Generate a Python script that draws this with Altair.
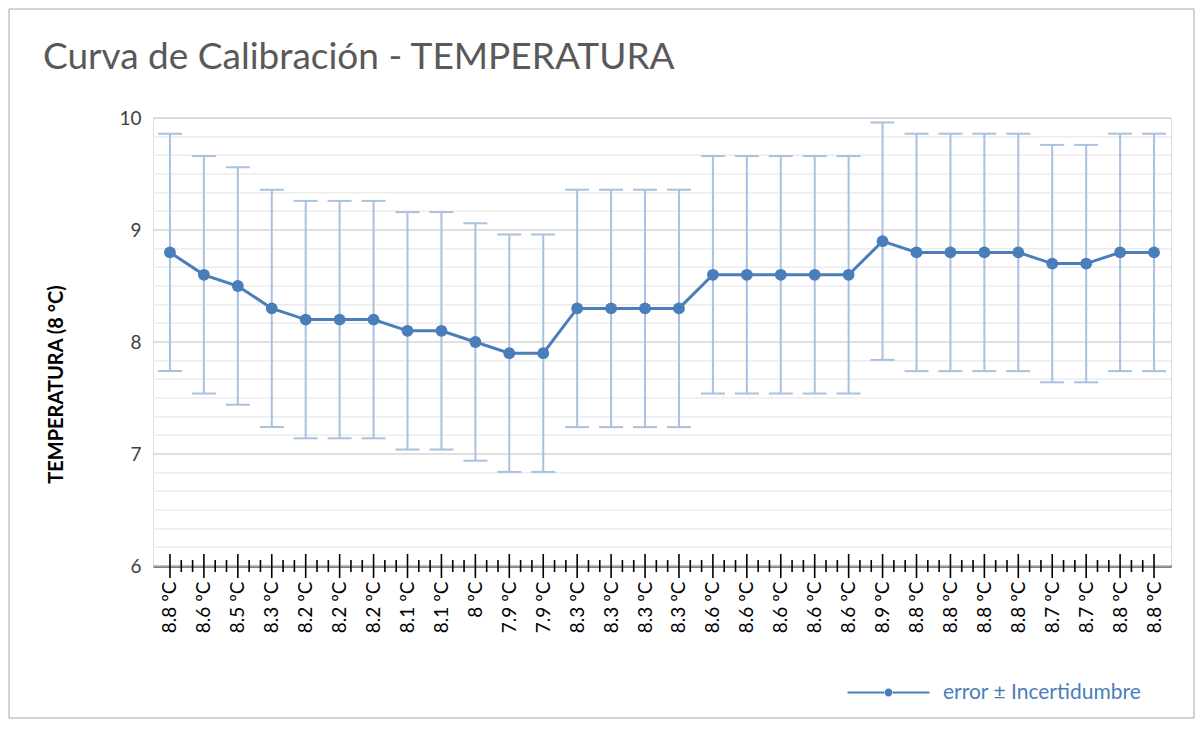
import altair as alt
import pandas as pd

# ---- data ----
labels = ["8.8 ºC", "8.6 ºC", "8.5 ºC", "8.3 ºC", "8.2 ºC", "8.2 ºC", "8.2 ºC", "8.1 ºC",
          "8.1 ºC", "8 ºC", "7.9 ºC", "7.9 ºC", "8.3 ºC", "8.3 ºC", "8.3 ºC", "8.3 ºC",
          "8.6 ºC", "8.6 ºC", "8.6 ºC", "8.6 ºC", "8.6 ºC", "8.9 ºC", "8.8 ºC", "8.8 ºC",
          "8.8 ºC", "8.8 ºC", "8.7 ºC", "8.7 ºC", "8.8 ºC", "8.8 ºC"]
temps = [8.8, 8.6, 8.5, 8.3, 8.2, 8.2, 8.2, 8.1, 8.1, 8.0, 7.9, 7.9, 8.3, 8.3, 8.3, 8.3,
         8.6, 8.6, 8.6, 8.6, 8.6, 8.9, 8.8, 8.8, 8.8, 8.8, 8.7, 8.7, 8.8, 8.8]
uncert = [1.06, 1.06, 1.06, 1.06, 1.06, 1.06, 1.06, 1.06, 1.06, 1.06, 1.06, 1.06, 1.06, 1.06, 1.06,
          1.06, 1.06, 1.06, 1.06, 1.06, 1.06, 1.06, 1.06, 1.06, 1.06, 1.06, 1.06, 1.06, 1.06, 1.06]
series_name = "error ± Incertidumbre"
y_ticks = [6, 7, 8, 9, 10]

# ---- styling ----
W, H = 1018, 448
LINE_C = "#4a7ebb"
ERR_C = "#a8c1e0"
FONT = "Lato"

n = len(temps)
df = pd.DataFrame({
    "idx": list(range(n)),
    "temp": temps,
    "lo": [t - u for t, u in zip(temps, uncert)],
    "hi": [t + u for t, u in zip(temps, uncert)],
    "serie": [series_name] * n,
})

grid_major = pd.DataFrame({"g": y_ticks})
grid_minor = pd.DataFrame({"g": [6 + k / 6 for k in range(25) if k % 6 != 0]})
ticks_major = pd.DataFrame({"idx": list(range(n))})
ticks_minor = pd.DataFrame({"idx": [i + f for i in range(n - 1) for f in (1 / 3, 2 / 3)]})
one = pd.DataFrame({"a": [0]})

label_expr = "[" + ",".join("'" + l + "'" for l in labels) + "][datum.value]"

x_scale = alt.Scale(domain=[-0.5, n - 0.5], nice=False, zero=False)
x_axis = alt.Axis(values=list(range(n)), labelExpr=label_expr, ticks=False, grid=False,
                  domain=True, domainColor="#000000", domainWidth=2,
                  labelAngle=270, labelAlign="right", labelBaseline="middle",
                  labelPadding=15, labelFont=FONT, labelFontSize=19, labelColor="#000000",
                  labelOverlap=False, labelFlush=False, title=None)
X = alt.X("idx:Q", scale=x_scale, axis=x_axis)

y_scale = alt.Scale(domain=[6, 10], nice=False, zero=False)
y_axis = alt.Axis(values=y_ticks, grid=False, domain=False, ticks=False, labelPadding=12,
                  labelFont=FONT, labelFontSize=19, labelColor="#404040",
                  title="TEMPERATURA (8 °C)", titleFont=FONT, titleFontSize=20,
                  titleFontWeight="bold", titleColor="#000000", titleAngle=270,
                  titleX=-97, titleY=266, titleAlign="center", titleBaseline="middle")


def Y(field):
    return alt.Y(field + ":Q", scale=y_scale, axis=y_axis)


g_minor = alt.Chart(grid_minor).mark_rule(color="#ececec", strokeWidth=1.5).encode(y=Y("g"))
g_major = alt.Chart(grid_major).mark_rule(color="#d4d4d4", strokeWidth=1.5).encode(y=Y("g"))

err = alt.Chart(df).mark_rule(color=ERR_C, strokeWidth=2).encode(x=X, y=Y("lo"), y2="hi:Q")
cap_lo = alt.Chart(df).mark_tick(color=ERR_C, orient="horizontal", size=24, thickness=2,
                                 opacity=1).encode(x=X, y=Y("lo"))
cap_hi = alt.Chart(df).mark_tick(color=ERR_C, orient="horizontal", size=24, thickness=2,
                                 opacity=1).encode(x=X, y=Y("hi"))

line = alt.Chart(df).mark_line(color=LINE_C, strokeWidth=3).encode(x=X, y=Y("temp"))

sym_path = ("M-4.1,-0.1H-0.45V0.1H-4.1Z M0.45,-0.1H4.1V0.1H0.45Z "
            "M0.4,0A0.4,0.4,0,1,1,-0.4,0A0.4,0.4,0,1,1,0.4,0Z")
points = alt.Chart(df).mark_circle(size=140, opacity=1).encode(
    x=X, y=Y("temp"),
    color=alt.Color("serie:N", scale=alt.Scale(range=[LINE_C]),
                    legend=alt.Legend(title=None, orient="none", legendX=725, legendY=564,
                                      symbolType=sym_path, symbolSize=400, symbolOpacity=1,
                                      symbolStrokeWidth=0, labelFont=FONT, labelFontSize=21,
                                      labelColor=LINE_C, labelOffset=44, labelLimit=0,
                                      padding=0)),
)

tk_major = alt.Chart(ticks_major).mark_rule(color="#000000", strokeWidth=1.6).encode(
    x=X, y=alt.value(H - 12), y2=alt.value(H + 12))
tk_minor = alt.Chart(ticks_minor).mark_rule(color="#000000", strokeWidth=1.6).encode(
    x=X, y=alt.value(H - 6), y2=alt.value(H + 6))

border = alt.Chart(one).mark_rect(fillOpacity=0, stroke="#a6a6a6", strokeWidth=1).encode(
    x=alt.value(-144), x2=alt.value(1041), y=alt.value(-109), y2=alt.value(600))

chart = alt.layer(
    g_minor, g_major, err, cap_lo, cap_hi, line, points, tk_major, tk_minor, border
).properties(
    width=W, height=H, padding=0,
    title=alt.TitleParams("Curva de Calibración - TEMPERATURA", anchor="start", frame="group",
                          dx=-110, dy=131, offset=34, baseline="alphabetic", font=FONT,
                          fontSize=37, fontWeight="normal", color="#595959"),
).configure_view(stroke=None).configure(background="white")

chart.save("out.html", embed_options={"renderer": "svg", "actions": False})
